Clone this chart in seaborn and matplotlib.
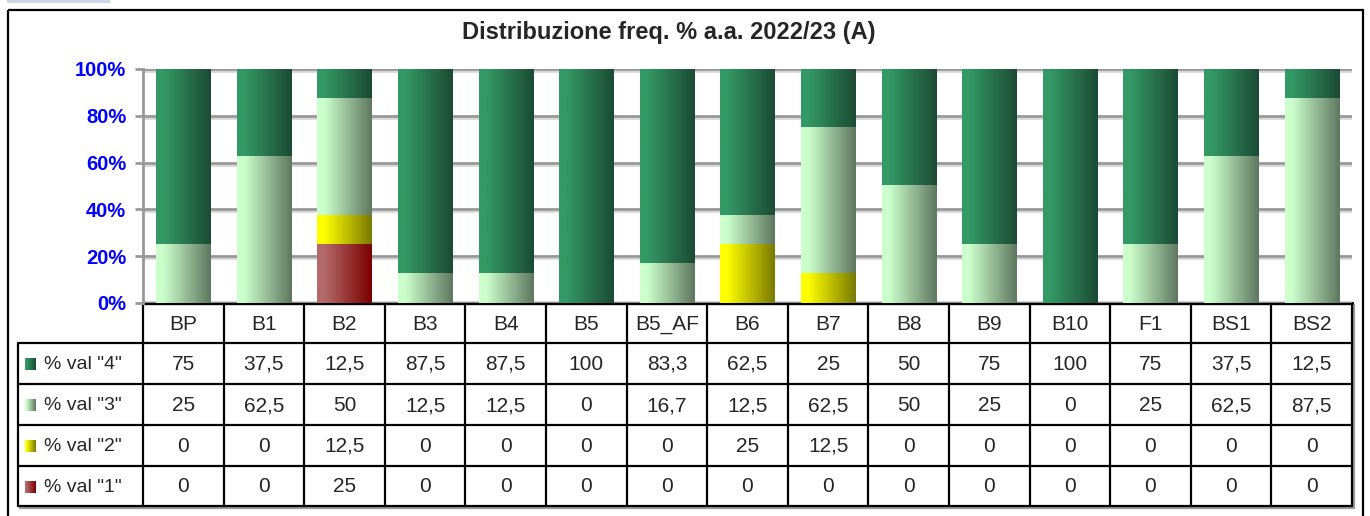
import numpy as np
import pandas as pd
import seaborn as sns
import matplotlib.pyplot as plt
import matplotlib.patheffects as pe
from matplotlib.colors import LinearSegmentedColormap
from matplotlib.patches import Rectangle

# dati
corsi = ['BP', 'B1', 'B2', 'B3', 'B4', 'B5', 'B5_AF', 'B6', 'B7', 'B8',
         'B9', 'B10', 'F1', 'BS1', 'BS2']
val4 = [75, 37.5, 12.5, 87.5, 87.5, 100, 83.3, 62.5, 25, 50, 75, 100, 75, 37.5, 12.5]
val3 = [25, 62.5, 50, 12.5, 12.5, 0, 16.7, 12.5, 62.5, 50, 25, 0, 25, 62.5, 87.5]
val2 = [0, 0, 12.5, 0, 0, 0, 0, 25, 12.5, 0, 0, 0, 0, 0, 0]
val1 = [0, 0, 25, 0, 0, 0, 0, 0, 0, 0, 0, 0, 0, 0, 0]
serie = ['% val "4"', '% val "3"', '% val "2"', '% val "1"']
titolo = 'Distribuzione freq. % a.a. 2022/23 (A)'

# colori gradiente (sinistra -> destra)
grad = {
    '% val "4"': ('#339966', '#1b4b34'),
    '% val "3"': ('#ccffcc', '#5f7860'),
    '% val "2"': ('#ffff00', '#7a7a00'),
    '% val "1"': ('#b36a6a', '#7d0000'),
}

df = pd.DataFrame({'corso': corsi, 'v4': val4, 'v3': val3, 'v2': val2, 'v1': val1})
df['c1'] = df['v1']
df['c2'] = df['c1'] + df['v2']
df['c3'] = df['c2'] + df['v3']
df['c4'] = df['c3'] + df['v4']

sns.set_style('white')
plt.rcParams['font.family'] = ['Liberation Sans', 'DejaVu Sans']

W, H = 1370, 516
fig = plt.figure(figsize=(W / 100, H / 100), dpi=100)

# asse "pixel" per cornice, titolo e tabella
bg = fig.add_axes([0, 0, 1, 1])
bg.set_xlim(0, W)
bg.set_ylim(H, 0)
bg.axis('off')

# area grafico
x_left, x_right = 143, 1352
y_top, y_bot = 69, 303
ax = fig.add_axes([x_left / W, 1 - y_bot / H, (x_right - x_left) / W, (y_bot - y_top) / H])
ax.set_facecolor('none')


def gradient_cmap(c_left, c_right):
    return LinearSegmentedColormap.from_list('g', [(0, c_left), (0.12, c_left), (1, c_right)])


grad_img = np.linspace(0, 1, 64).reshape(1, -1)

# barre sovrapposte (cumulate), dalla più alta
livelli = [('c4', '% val "4"'), ('c3', '% val "3"'), ('c2', '% val "2"'), ('c1', '% val "1"')]
for k, (col, nome) in enumerate(livelli):
    n0 = len(ax.patches)
    sns.barplot(data=df, x='corso', y=col, color=grad[nome][0], width=0.67,
                errorbar=None, ax=ax, zorder=3 + k, linewidth=0, saturation=1)
    cmap = gradient_cmap(*grad[nome])
    for p in ax.patches[n0:]:
        h = p.get_height()
        if h <= 0:
            continue
        x0 = p.get_x()
        ax.imshow(grad_img, cmap=cmap, aspect='auto', interpolation='bilinear',
                  extent=(x0, x0 + p.get_width(), 0, h), zorder=3 + k + 0.5)

ax.set_xlim(-0.5, len(corsi) - 0.5)
ax.set_ylim(0, 100)
ax.set_yticks([0, 20, 40, 60, 80, 100])
ax.set_yticklabels([f'{t}%' for t in [0, 20, 40, 60, 80, 100]],
                   fontweight='bold', fontsize=14.5, color='#0000ff')
ax.set_xticks([])
ax.set_xlabel('')
ax.set_ylabel('')
ax.tick_params(axis='y', length=6, width=2, color='#999999', pad=6, left=True)
ax.yaxis.grid(True, color='#999999', linewidth=2, zorder=1)
ax.set_axisbelow(True)
for gl in ax.get_ygridlines():
    gl.set_path_effects([pe.SimpleLineShadow(offset=(0, -1.5), shadow_color='#d8d8d8', alpha=1),
                         pe.Normal()])
for s in ['top', 'right']:
    ax.spines[s].set_visible(False)
ax.spines['left'].set_color('#999999')
ax.spines['left'].set_linewidth(2)
ax.spines['bottom'].set_visible(False)

# cornice esterna
bg.add_patch(Rectangle((7, 0), 103, 2.5, facecolor='#c9d7e6', edgecolor='none'))
bg.add_patch(Rectangle((8, 10), 1355, 520, facecolor='none', edgecolor='black', linewidth=1.6))
bg.text(669, 33, titolo, ha='center', va='center', fontsize=17, fontweight='bold')

# tabella dati
n = len(corsi)
cw = (x_right - x_left) / n
xs = [x_left + i * cw for i in range(n + 1)]
ys = [303, 343, 384, 425, 466, 506]
x_lab = 18
lw = 1.6

# ombra
bg.plot([x_right + 2, x_right + 2], [ys[0] + 2, ys[-1] + 2], color='#9a9a9a', lw=lw)
bg.plot([x_lab + 2, x_right + 2], [ys[-1] + 2, ys[-1] + 2], color='#9a9a9a', lw=lw)

bg.plot([x_left, x_right], [ys[0], ys[0]], color='black', lw=2.4)
for y in ys[1:]:
    bg.plot([x_lab, x_right], [y, y], color='black', lw=lw)
for x in xs:
    bg.plot([x, x], [ys[0], ys[-1]], color='black', lw=lw)
bg.plot([x_lab, x_lab], [ys[1], ys[-1]], color='black', lw=lw)

fs = 15
for i, c in enumerate(corsi):
    bg.text((xs[i] + xs[i + 1]) / 2, (ys[0] + ys[1]) / 2 + 1, c,
            ha='center', va='center', fontsize=fs)

righe = [val4, val3, val2, val1]
for r, (nome, valori) in enumerate(zip(serie, righe)):
    yc = (ys[r + 1] + ys[r + 2]) / 2 + 1
    # simbolo legenda con gradiente
    bg.imshow(grad_img, cmap=gradient_cmap(*grad[nome]), aspect='auto',
              extent=(25, 36, yc + 6, yc - 6), zorder=3)
    bg.text(44, yc, nome, ha='left', va='center', fontsize=14)
    for i, v in enumerate(valori):
        txt = f'{v:g}'.replace('.', ',')
        bg.text((xs[i] + xs[i + 1]) / 2, yc, txt, ha='center', va='center', fontsize=fs)

bg.set_xlim(0, W)
bg.set_ylim(H, 0)

fig.savefig('out.png', dpi=100)
